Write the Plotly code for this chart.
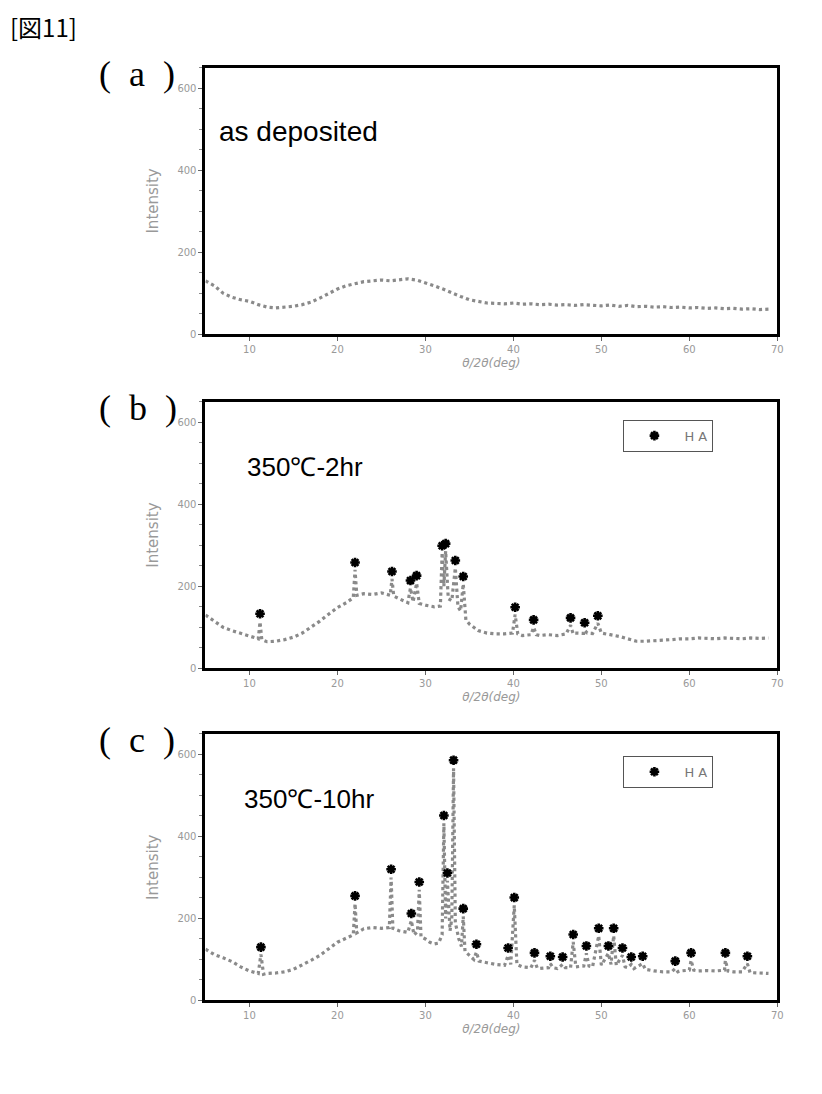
import plotly.graph_objects as go

# ---------------- data ----------------
# (a) as deposited
a_x = [5, 6, 7, 8, 9, 10, 11, 12, 13, 14, 15, 16, 17, 18, 19, 20, 21, 22, 23, 24, 25, 26, 27, 28, 29,
       30, 31, 32, 33, 34, 35, 36, 37, 38, 39, 40, 41, 42, 43, 44, 45, 46, 47, 48, 49, 50, 51, 52, 53,
       54, 55, 56, 57, 58, 59, 60, 61, 62, 63, 64, 65, 66, 67, 68, 69]
a_y = [130, 118, 100, 90, 84, 80, 72, 66, 64, 66, 68, 72, 78, 88, 100, 110, 118, 124, 128, 130, 132, 130,
       133, 135, 132, 126, 118, 110, 100, 92, 84, 80, 76, 75, 74, 76, 73, 74, 72, 73, 71, 72, 70, 72, 70,
       69, 71, 68, 70, 67, 68, 66, 67, 65, 66, 64, 65, 63, 64, 62, 63, 61, 62, 60, 61]

# (b) 350C-2hr
b_x = [5, 6, 7, 8, 9, 10, 11, 11.2, 11.4, 12, 13, 14, 15, 16, 17, 18, 19, 20, 21, 21.8, 22.0, 22.2, 23, 24,
       25, 26, 26.2, 26.4, 27, 28, 28.3, 28.6, 29.0, 29.3, 30, 31, 31.7, 31.9, 32.1, 32.3, 32.6, 33.0, 33.4,
       33.7, 34.0, 34.3, 34.6, 35, 36, 37, 38, 39, 39.9, 40.2, 40.5, 41, 42, 42.3, 42.6, 43, 44, 45, 46,
       46.5, 46.8, 47, 48, 48.1, 48.4, 49, 49.6, 49.9, 50, 51, 52, 53, 54, 55, 56, 57, 58, 59, 60, 61, 62,
       63, 64, 65, 66, 67, 68, 69]
b_y = [130, 115, 100, 92, 85, 78, 72, 113, 70, 65, 66, 70, 76, 86, 100, 115, 132, 148, 160, 172, 240, 178,
       182, 180, 184, 178, 218, 176, 170, 160, 196, 162, 208, 158, 154, 150, 152, 282, 200, 286, 170, 165,
       245, 150, 140, 206, 118, 108, 92, 86, 84, 84, 86, 131, 84, 80, 82, 100, 82, 80, 82, 80, 84, 105, 84,
       86, 85, 93, 86, 85, 110, 88, 86, 82, 78, 72, 66, 66, 67, 68, 70, 72, 72, 74, 73, 72, 74, 73, 72, 74,
       73, 74]
b_star_x = [11.2, 22.0, 26.2, 28.3, 29.0, 31.9, 32.3, 33.4, 34.3, 40.2, 42.3, 46.5, 48.1, 49.6]
b_star_y = [133, 258, 236, 214, 226, 299, 304, 263, 224, 149, 118, 123, 111, 128]

# (c) 350C-10hr
c_x = [5, 6, 7, 8, 9, 10, 11, 11.3, 11.6, 12, 13, 14, 15, 16, 17, 18, 19, 20, 21, 21.8, 22.0, 22.2, 23, 24,
       25, 25.9, 26.1, 26.3, 27, 28, 28.4, 28.7, 29.1, 29.3, 29.5, 30, 30.5, 31, 31.5, 31.9, 32.1, 32.3,
       32.5, 32.8, 33.0, 33.2, 33.4, 33.8, 34.1, 34.3, 34.5, 35, 35.5, 35.8, 36.1, 37, 38, 39, 39.4, 39.7,
       40.1, 40.4, 41, 42, 42.4, 42.7, 43, 44, 44.2, 44.5, 45, 45.6, 45.9, 46.5, 46.8, 47.1, 48, 48.3, 48.6,
       49, 49.7, 50.0, 50.8, 51.1, 51.4, 51.7, 52.4, 52.7, 53, 53.4, 53.7, 54.7, 55, 56, 57, 58, 58.4, 58.7,
       59, 60, 60.2, 60.5, 61, 62, 63, 64, 64.1, 64.4, 65, 66, 66.6, 66.9, 67, 68, 69]
c_y = [125, 112, 104, 95, 82, 72, 66, 112, 64, 66, 67, 70, 76, 86, 98, 110, 126, 142, 152, 160, 236, 165,
       175, 178, 176, 178, 300, 176, 170, 166, 195, 160, 168, 270, 155, 150, 142, 138, 140, 160, 432, 200,
       292, 170, 200, 566, 190, 150, 132, 205, 120, 110, 100, 118, 96, 92, 88, 86, 110, 88, 232, 88, 82, 80,
       98, 80, 78, 80, 90, 80, 78, 88, 80, 80, 143, 82, 84, 115, 84, 82, 158, 86, 115, 88, 158, 86, 110, 82,
       80, 88, 78, 90, 76, 72, 70, 70, 78, 70, 72, 74, 98, 74, 72, 73, 72, 74, 98, 72, 70, 70, 90, 68, 68,
       67, 66]
c_star_x = [11.3, 22.0, 26.1, 28.4, 29.3, 32.1, 32.5, 33.2, 34.3, 35.8, 39.4, 40.1, 42.4, 44.2, 45.6, 46.8,
            48.3, 49.7, 50.8, 51.4, 52.4, 53.4, 54.7, 58.4, 60.2, 64.1, 66.6]
c_star_y = [130, 255, 320, 212, 289, 451, 311, 586, 224, 137, 128, 251, 116, 108, 106, 161, 133, 176, 133,
            176, 128, 106, 108, 96, 116, 116, 108]

x_ticks = [10, 20, 30, 40, 50, 60, 70]
y_ticks = [0, 200, 400, 600]
x_title = "θ/2θ(deg)"
y_title = "Intensity"
legend_label = "H A"

# ---------------- figure ----------------
W, H = 822, 1094
fig = go.Figure()

SP = "&nbsp;&nbsp;"
panels = [
    dict(x=a_x, y=a_y, sx=None, sy=None, top=68, bot=336, label=f"({SP}a{SP})", note="as deposited",
         note_xy=(219, 132), note_size=28),
    dict(x=b_x, y=b_y, sx=b_star_x, sy=b_star_y, top=404, bot=672, label=f"({SP}b{SP})", note="350℃-2hr",
         note_xy=(247, 470), note_size=26),
    dict(x=c_x, y=c_y, sx=c_star_x, sy=c_star_y, top=738, bot=1006, label=f"({SP}c{SP})", note="350℃-10hr",
         note_xy=(244, 803), note_size=26),
]

LINE_GRAY = "#8a8a8a"
TICK_GRAY = "#999999"
left_px, right_px = 207, 783

for i, p in enumerate(panels):
    n = i + 1
    xa = "x" if n == 1 else f"x{n}"
    ya = "y" if n == 1 else f"y{n}"
    fig.add_trace(go.Scatter(x=p["x"], y=p["y"], mode="lines", xaxis=xa, yaxis=ya,
                             line=dict(color=LINE_GRAY, width=3.2, dash="dot"),
                             showlegend=False, hoverinfo="skip"))
    if p["sx"] is not None:
        fig.add_trace(go.Scatter(x=p["sx"], y=p["sy"], mode="markers", xaxis=xa, yaxis=ya,
                                 marker=dict(symbol="asterisk-open", size=8, color="black",
                                             line=dict(color="black", width=2.6)),
                                 name=legend_label, showlegend=True,
                                 legend="legend" if n == 2 else "legend2"))
    dom_y = [1 - p["bot"] / H, 1 - p["top"] / H]
    dom_x = [left_px / W, right_px / W]
    xkey = "xaxis" if n == 1 else f"xaxis{n}"
    ykey = "yaxis" if n == 1 else f"yaxis{n}"
    fig.update_layout(**{
        xkey: dict(domain=dom_x, range=[5, 70], anchor=ya, tickvals=x_ticks,
                   showline=True, linecolor="black", linewidth=3, mirror=True,
                   ticks="outside", ticklen=4, tickcolor="#666", showgrid=False, zeroline=False,
                   tickfont=dict(family="DejaVu Sans", size=10, color=TICK_GRAY),
                   title=dict(text=x_title, standoff=5,
                              font=dict(family="DejaVu Sans", size=12, color=TICK_GRAY, style="italic"))),
        ykey: dict(domain=dom_y, range=[0, 650], anchor=xa, tickvals=y_ticks,
                   showline=True, linecolor="black", linewidth=3, mirror=True,
                   ticks="outside", ticklen=4, tickcolor="#666", showgrid=False, zeroline=False,
                   minor=dict(dtick=50, ticks="outside", ticklen=3, tickcolor="#888"),
                   tickfont=dict(family="DejaVu Sans", size=10, color=TICK_GRAY),
                   title=dict(text=y_title, standoff=16,
                              font=dict(family="DejaVu Sans", size=15, color=TICK_GRAY))),
    })
    # in-plot condition label
    fig.add_annotation(xref="paper", yref="paper", x=p["note_xy"][0] / W, y=1 - p["note_xy"][1] / H,
                       text=p["note"], showarrow=False, xanchor="left", yanchor="middle",
                       font=dict(family="Liberation Sans, Arial", size=p["note_size"], color="black"))
    # panel label
    fig.add_annotation(xref="paper", yref="paper", x=98 / W, y=1 - (p["top"] + 6) / H,
                       text=p["label"], showarrow=False, xanchor="left", yanchor="middle",
                       font=dict(family="Liberation Serif", size=36, color="black"))

# header
fig.add_annotation(xref="paper", yref="paper", x=8 / W, y=1 - 27 / H, text="[図11]",
                   showarrow=False, xanchor="left", yanchor="middle",
                   font=dict(family="Noto Sans CJK JP", size=24, color="black"))

legend_style = dict(bgcolor="white", bordercolor="#555", borderwidth=1,
                    font=dict(family="DejaVu Sans", size=13, color="#777"),
                    xanchor="left", yanchor="top", itemwidth=50, entrywidth=82)
fig.update_layout(
    width=W, height=H, margin=dict(l=0, r=0, t=0, b=0),
    paper_bgcolor="white", plot_bgcolor="white",
    legend=dict(x=628 / W, y=1 - 422 / H, **legend_style),
    legend2=dict(x=628 / W, y=1 - 760 / H, **legend_style),
)

fig.write_html("out.html")
